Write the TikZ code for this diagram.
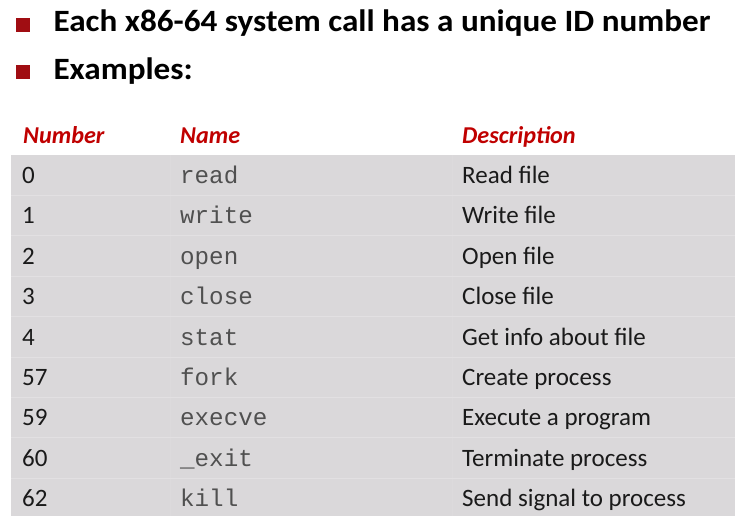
\documentclass[tikz,border=0pt]{standalone}
\usepackage{fontspec}
\setmainfont{Carlito}
\newfontfamily\monof{Liberation Mono}
\newfontface\titlef[FakeStretch=1.07]{Carlito Bold}
\definecolor{bulletred}{HTML}{A00D12}
\definecolor{headred}{HTML}{C00000}
\definecolor{rowgray}{HTML}{DAD8DA}
\definecolor{sepline}{HTML}{E2E0E2}
\definecolor{namegray}{HTML}{505050}
\definecolor{txt}{HTML}{1A1A1A}
\begin{document}
\begin{tikzpicture}[x=1pt,y=-1pt,
  bulletsq/.style={fill=bulletred,draw=none,minimum size=14pt,inner sep=0pt},
  titletext/.style={anchor=base west,inner sep=0pt,font=\fontsize{31}{36}\titlef,text=black},
  headtext/.style={anchor=base west,inner sep=0pt,font=\fontsize{24.2}{28}\selectfont\bfseries\itshape,text=headred},
  numtext/.style={anchor=base west,inner sep=0pt,font=\fontsize{25}{28}\selectfont,text=txt},
  nametext/.style={anchor=base west,inner sep=0pt,font=\fontsize{24.2}{28}\selectfont\monof,text=namegray},
  desctext/.style={anchor=base west,inner sep=0pt,font=\fontsize{25}{28}\selectfont,text=txt}]
\useasboundingbox (0,0) rectangle (735,517);
\fill[white] (0,0) rectangle (735,517);
% bullets and title
\node[bulletsq] (b1) at (23.3,24.5) {};
\node[bulletsq] (b2) at (23.3,72.2) {};
\node[titletext] (t1) at (53.3,31.7) {Each x86-64 system call has a unique ID number};
\node[titletext] (t2) at (53.3,79.3) {Examples:};
% header
\node[headtext] (hnum) at (23,143) {Number};
\node[headtext] (hname) at (180,143) {Name};
\node[headtext] (hdesc) at (462,143) {Description};
% table background
\fill[rowgray] (11,155) rectangle (735,516);
\foreach \i in {1,...,8} {
  \draw[sepline,line width=0.8pt] (11,155+40.4*\i) -- (735,155+40.4*\i);
}
\draw[sepline,line width=0.5pt,opacity=0.35] (170,155) -- (170,516);
\draw[sepline,line width=0.5pt,opacity=0.35] (452,155) -- (452,516);
% rows
\foreach \n/\nm/\d [count=\k from 0] in {
  0/read/Read file,
  1/write/Write file,
  2/open/Open file,
  3/close/Close file,
  4/stat/Get info about file,
  57/fork/Create process,
  59/execve/Execute a program,
  60/\_exit/Terminate process,
  62/kill/Send signal to process} {
  \node[numtext] (num\k) at (22,183.5+40.4*\k) {\n};
  \node[nametext] (name\k) at (180,183.5+40.4*\k) {\nm};
  \node[desctext] (desc\k) at (462,183.5+40.4*\k) {\d};
}
\end{tikzpicture}
\end{document}
